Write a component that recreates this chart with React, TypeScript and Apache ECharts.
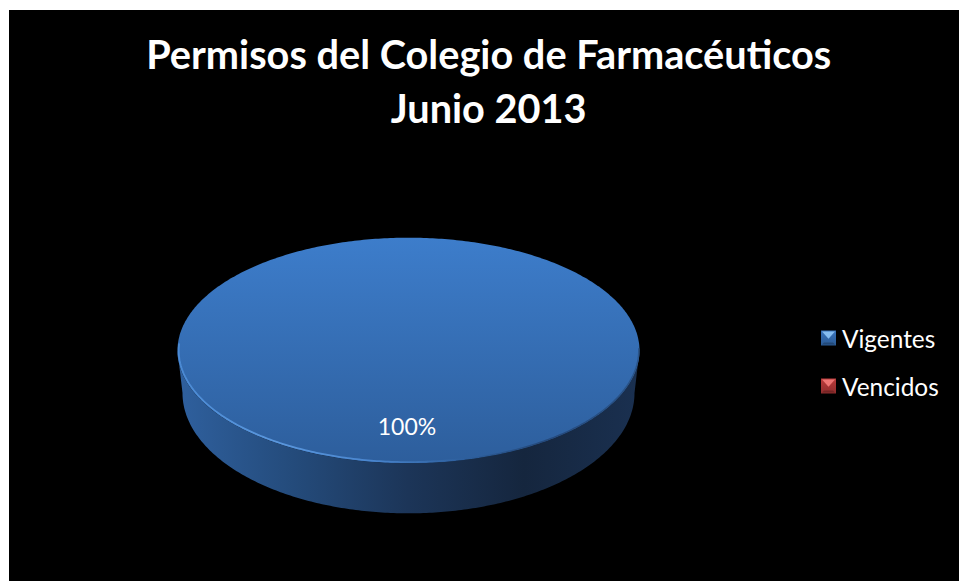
import React, { useEffect, useRef } from "react";
import * as echarts from "echarts";

const TITLE_LINES = ["Permisos del Colegio de Farmacéuticos", "Junio 2013"];
const categories = ["Vigentes", "Vencidos"];
const values = [100, 0];
const topStops = [["#3d7dcb", "#2d5e9c"], ["#c0504d", "#8c3836"]];
const wallStops = [
  ["#2f609e", "#244b7b", "#1c3558", "#15263e", "#1a3050"],
  ["#9c3b39", "#7a2e2c", "#5c2322", "#421918", "#4e1e1d"],
];
const legendStops = [["#3a74bd", "#2a5a94"], ["#bb3b3b", "#8f2d2d"]];
const legendCaps = ["#86bdf0", "#ee7674"];

const FONT = "Lato, Carlito, 'Noto Sans', sans-serif";
const W = 950;
const H = 571;
// Chart-local geometry of the disc (page position minus the 9,10 offset of the chart).
const TOP = { cx: 399.5, cy: 340.5, rx: 231, ry: 112.8 };
const BASE = { cx: 399.5, cy: 383, rx: 226, ry: 120.3 };
const LEGEND = { left: 812, top: 320.5, size: 15, pitch: 48 };

const total = values.reduce((a, b) => a + b, 0);

function ellipsePoint(e: typeof TOP, angle: number, inset = 0): number[] {
  return [e.cx + (e.rx - inset) * Math.cos(angle), e.cy + (e.ry - inset) * Math.sin(angle)];
}

function arc(e: typeof TOP, from: number, to: number, inset = 0): number[][] {
  const steps = Math.max(2, Math.ceil(Math.abs(to - from) / (Math.PI / 240)));
  const pts: number[][] = [];
  for (let i = 0; i <= steps; i++) pts.push(ellipsePoint(e, from + ((to - from) * i) / steps, inset));
  return pts;
}

function linear(x2: number, y2: number, colors: string[]) {
  return new echarts.graphic.LinearGradient(
    0,
    0,
    x2,
    y2,
    colors.map((color, i) => ({ offset: i / (colors.length - 1), color }))
  );
}

function sliceRenderer(index: number) {
  return (_params: unknown, api: { value: (d: number) => number }) => {
    const value = api.value(0);
    if (!value) return { type: "group", children: [] };
    const before = values.slice(0, index).reduce((a, b) => a + b, 0);
    const start = -Math.PI / 2 + (before / total) * Math.PI * 2;
    const end = start + (value / total) * Math.PI * 2;
    const mid = (start + end) / 2;
    const children: unknown[] = [];

    // Front wall: the part of the slice's arc facing the viewer.
    const wallFrom = Math.max(start, 0);
    const wallTo = Math.min(end, Math.PI);
    const wrapFrom = Math.max(start + Math.PI * 2, 0);
    const from = wallFrom < wallTo ? wallFrom : wrapFrom;
    const to = wallFrom < wallTo ? wallTo : Math.min(end + Math.PI * 2, Math.PI);
    if (from < to) {
      children.push({
        type: "polygon",
        shape: { points: [...arc(TOP, to, from), ...arc(BASE, from, to)] },
        style: { fill: linear(1, 0, wallStops[index]) },
      });
    }

    // Top face.
    const full = value === total;
    children.push({
      type: "polygon",
      shape: {
        points: full
          ? arc(TOP, start, end)
          : [[TOP.cx, TOP.cy], ...arc(TOP, start, end)],
      },
      style: { fill: linear(0, 1, topStops[index]) },
    });

    // Bevel highlight along the lower-left rim, and a dark edge on the lower right.
    if (from < to) {
      children.push({
        type: "polyline",
        shape: { points: arc(TOP, Math.PI * 1.02, Math.PI * 0.42, 1.2) },
        style: {
          fill: "none",
          lineWidth: 1.8,
          stroke: linear(1, 0, ["#4b8ad4", "#5a97dd", "#4a86cf", "rgba(70,130,200,0)"]),
        },
      });
      children.push({
        type: "polyline",
        shape: { points: arc(TOP, Math.PI * 0.42, -0.02, 0.8) },
        style: {
          fill: "none",
          lineWidth: 1.4,
          stroke: linear(1, 0, ["rgba(30,60,100,0)", "#24487a", "#2a5489"]),
        },
      });
    }

    // Percentage label.
    const labelPoint = full ? [TOP.cx - 1.5, TOP.cy + 75] : ellipsePoint(TOP, mid, TOP.ry * 0.35);
    children.push({
      type: "text",
      x: labelPoint[0],
      y: labelPoint[1],
      style: {
        text: `${Math.round((value / total) * 100)}%`,
        fill: "#ffffff",
        font: `23px ${FONT}`,
        align: "center",
        verticalAlign: "middle",
      },
    });
    return { type: "group", children };
  };
}

function legendCaps3d() {
  const s = LEGEND.size;
  return categories.flatMap((_, i) => {
    const x = LEGEND.left;
    const y = LEGEND.top + i * LEGEND.pitch;
    return [
      {
        type: "polygon",
        z: 20,
        shape: { points: [[x + 1, y + 1], [x + s - 1, y + 1], [x + s / 2, y + s * 0.55]] },
        style: { fill: legendCaps[i] },
      },
      {
        type: "polygon",
        z: 20,
        shape: { points: [[x + 1, y + s - 1], [x + s - 1, y + s - 1], [x + s - 3, y + s - 3], [x + 3, y + s - 3]] },
        style: { fill: "rgba(0,0,0,0.22)" },
      },
    ];
  });
}

export default function App() {
  const ref = useRef<HTMLDivElement>(null);

  useEffect(() => {
    document.body.style.margin = "0";
    document.body.style.background = "#ffffff";
    const chart = echarts.init(ref.current!, undefined, { renderer: "svg" });
    chart.setOption({
      animation: false,
      backgroundColor: "#000000",
      title: {
        text: TITLE_LINES.join("\n"),
        left: 474.7,
        top: 11,
        textAlign: "center",
        textStyle: {
          color: "#ffffff",
          fontFamily: FONT,
          fontWeight: "bold",
          fontSize: 39.7,
          lineHeight: 54,
        },
      },
      legend: {
        orient: "vertical",
        left: LEGEND.left - 5,
        top: LEGEND.top - 10,
        padding: 5,
        itemWidth: LEGEND.size,
        itemHeight: LEGEND.size,
        itemGap: 23,
        selectedMode: false,
        icon: "rect",
        textStyle: {
          color: "#ffffff",
          fontFamily: FONT,
          fontSize: 24.4,
          lineHeight: 20,
          padding: [0, 0, 5, 1],
        },
        data: categories.map((name, i) => ({
          name,
          itemStyle: { color: linear(0, 1, legendStops[i]) },
        })),
      },
      graphic: legendCaps3d(),
      series: categories.map((name, i) => ({
        type: "custom",
        name,
        coordinateSystem: "none",
        silent: true,
        clip: false,
        data: [[values[i]]],
        itemStyle: { color: topStops[i][1] },
        renderItem: sliceRenderer(i),
      })),
    });
    return () => chart.dispose();
  }, []);

  return (
    <div
      ref={ref}
      style={{ position: "absolute", left: 9, top: 10, width: W, height: H, overflow: "hidden" }}
    />
  );
}
